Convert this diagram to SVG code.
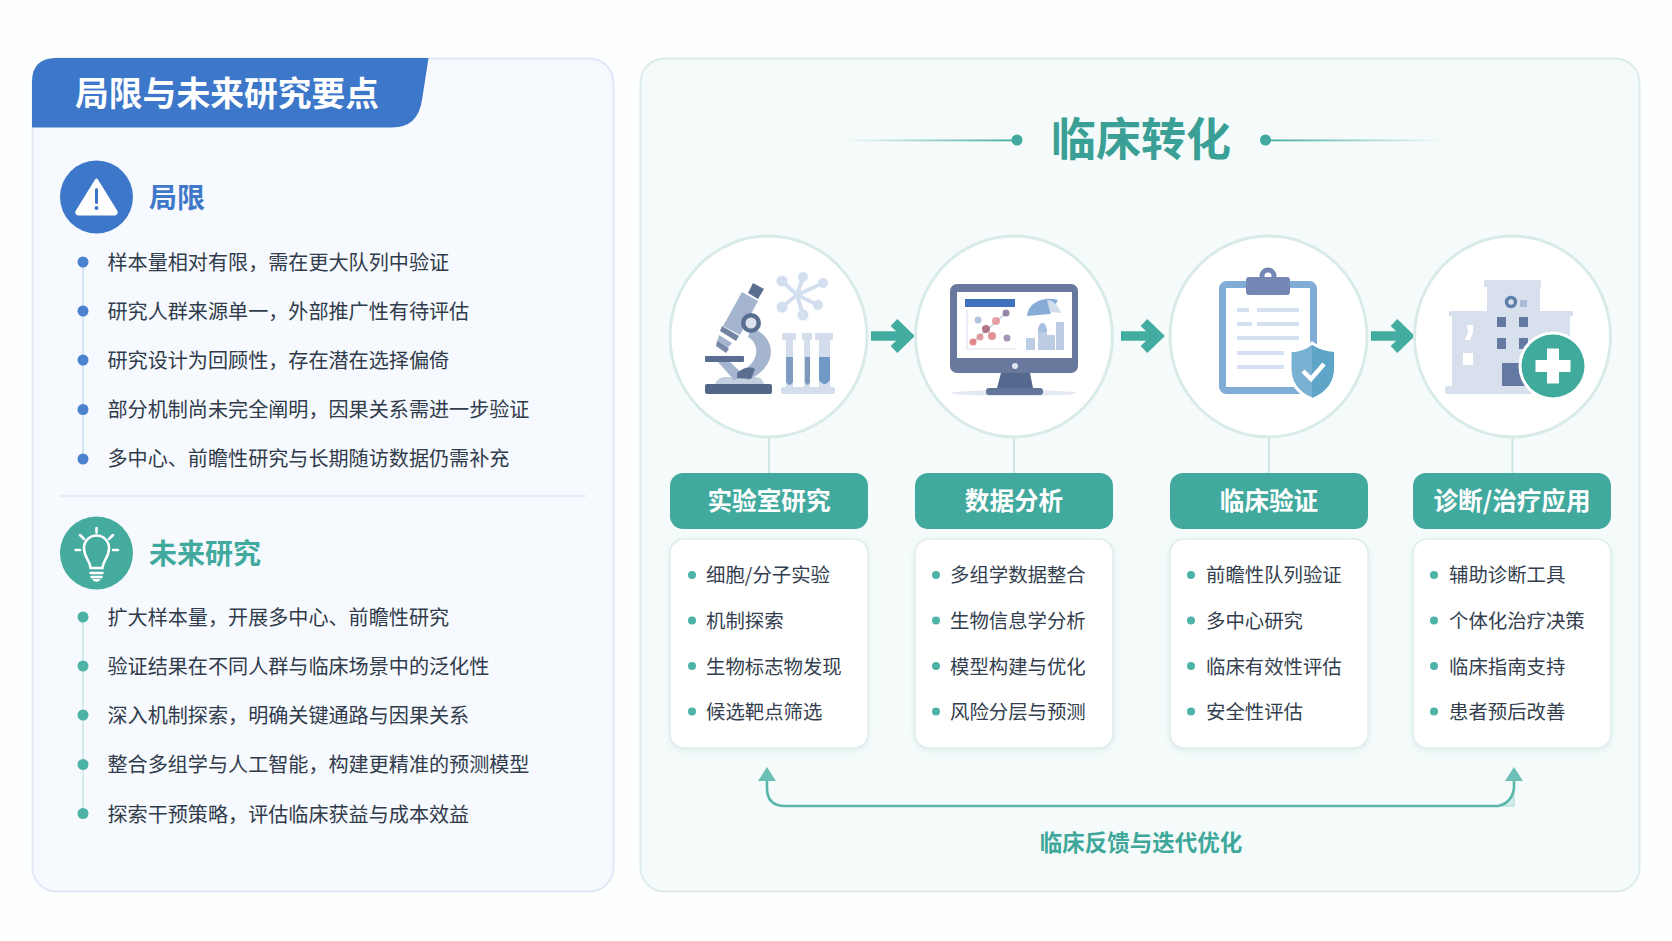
<svg xmlns="http://www.w3.org/2000/svg" width="1672" height="941" viewBox="0 0 1672 941">
<style>
text{font-family:"Noto Sans CJK SC","Noto Sans",sans-serif}
.li{font-size:20.1px;fill:#303b4b}
.ci{font-size:19.4px;fill:#333e4e}
.pill{fill:#41a99d}
.pt{font-size:24.6px;font-weight:700;fill:#fff;text-anchor:middle}
.card{fill:#fff;stroke:#deedeb;stroke-width:1.5;filter:url(#sh)}
.circ{fill:#fff;stroke:#d8ebe8;stroke-width:3}
.bd{fill:#4a82d0}.gd{fill:#4db3a7}.cd{fill:#4db3a7}
.stem{stroke:#cfe6e2;stroke-width:2;fill:none}
.flow{fill:none;stroke:#41ac9f;stroke-width:9.5}
.fb{fill:none;stroke:#5ab6aa;stroke-width:2.6;marker-start:url(#fh);marker-end:url(#fh)}
.dk{fill:#5a6e91}.md{fill:#a6b5cf}.lt{fill:#d3deef}
</style>
<defs>
<filter id="sh" x="-10%" y="-10%" width="120%" height="120%"><feDropShadow dx="0" dy="2" stdDeviation="3" flood-color="#a9d3cd" flood-opacity=".3"/></filter>
<filter id="soft" x="-5%" y="-5%" width="110%" height="110%"><feGaussianBlur stdDeviation=".7"/></filter>
<linearGradient id="gl" gradientUnits="userSpaceOnUse" x1="842" y1="0" x2="1017" y2="0"><stop offset="0" stop-color="#41a99d" stop-opacity="0"/><stop offset="1" stop-color="#41a99d"/></linearGradient>
<linearGradient id="gr" gradientUnits="userSpaceOnUse" x1="1265" y1="0" x2="1445" y2="0"><stop offset="0" stop-color="#41a99d"/><stop offset="1" stop-color="#41a99d" stop-opacity="0"/></linearGradient>
<marker id="fh" markerUnits="userSpaceOnUse" viewBox="0 0 14 18" markerWidth="14" markerHeight="18" refX="1" refY="9" orient="auto-start-reverse"><path d="M0 0L14 9L0 18Z" fill="#6cc0b5"/></marker>
<path id="fa" d="M0 0H35M23 -13.500L37 0L23 13.500"/>
</defs>
<rect width="1672" height="941" fill="#fdfefe"/>

<g id="panel-left">
<rect x="32.500" y="58.500" width="581" height="833" rx="24" fill="#f6f9fd" stroke="#dfe9f6" stroke-width="2"/>
<path d="M32 127.500V82Q32 58 56 58H428.500L422 100Q418 127.500 392 127.500Z" fill="#3d77c9"/>
<text x="75" y="106" font-size="33.800" font-weight="700" fill="#fff">局限与未来研究要点</text>
<line x1="60" y1="496" x2="586" y2="496" stroke="#dce7f6" stroke-width="1.500"/>
</g>

<g id="limits">
<circle cx="96.500" cy="197" r="36.500" fill="#3d77c9"/>
<path d="M96.500 180L116 211.500Q117 214 114 214H79Q76 214 77 211.500Z" fill="#fff" stroke="#fff" stroke-width="3" stroke-linejoin="round"/>
<rect x="95" y="188" width="3" height="16" rx="1.500" fill="#3d77c9"/><circle cx="96.500" cy="208" r="2" fill="#3d77c9"/>
<text x="149" y="208" font-size="28" font-weight="700" fill="#3f78c8">局限</text>
<line x1="83" y1="262" x2="83" y2="459" stroke="#cadcf4" stroke-width="1.500"/>
<circle class="bd" cx="83" cy="262" r="5.500"/><circle class="bd" cx="83" cy="311" r="5.500"/><circle class="bd" cx="83" cy="360" r="5.500"/><circle class="bd" cx="83" cy="409.500" r="5.500"/><circle class="bd" cx="83" cy="459" r="5.500"/>
<text class="li" x="107.500" y="269.500">样本量相对有限，需在更大队列中验证</text>
<text class="li" x="107.500" y="318.500">研究人群来源单一，外部推广性有待评估</text>
<text class="li" x="107.500" y="367.500">研究设计为回顾性，存在潜在选择偏倚</text>
<text class="li" x="107.500" y="416.500">部分机制尚未完全阐明，因果关系需进一步验证</text>
<text class="li" x="107.500" y="466">多中心、前瞻性研究与长期随访数据仍需补充</text>
</g>

<g id="future">
<circle cx="96.500" cy="553" r="36.500" fill="#45ab9f"/>
<g fill="none" stroke="#fff" stroke-width="2.500" stroke-linecap="round">
<path d="M90.500 568C90 560 84 558 84 548A12.500 12.500 0 1 1 109 548C109 558 103 560 102.500 568Z"/>
<path d="M96.500 528V532.500M80 535L84 539M113 535L109 539M75.500 550H80M113 550H118"/>
</g>
<path d="M90.500 573H102.500M91.500 577H101.500" stroke="#fff" stroke-width="2.500" stroke-linecap="round"/>
<path d="M92 579H101Q99 582 96.500 582Q94 582 92 579Z" fill="#fff"/>
<text x="149" y="563.500" font-size="28" font-weight="700" fill="#41a99d">未来研究</text>
<line x1="83" y1="616" x2="83" y2="813" stroke="#c8e6e2" stroke-width="1.500"/>
<circle class="gd" cx="83" cy="617" r="5.500"/><circle class="gd" cx="83" cy="666" r="5.500"/><circle class="gd" cx="83" cy="715" r="5.500"/><circle class="gd" cx="83" cy="764.500" r="5.500"/><circle class="gd" cx="83" cy="813.500" r="5.500"/>
<text class="li" x="107.500" y="624.500">扩大样本量，开展多中心、前瞻性研究</text>
<text class="li" x="107.500" y="673.500">验证结果在不同人群与临床场景中的泛化性</text>
<text class="li" x="107.500" y="722.500">深入机制探索，明确关键通路与因果关系</text>
<text class="li" x="107.500" y="772">整合多组学与人工智能，构建更精准的预测模型</text>
<text class="li" x="107.500" y="821.500">探索干预策略，评估临床获益与成本效益</text>
</g>

<g id="panel-right">
<rect x="640.500" y="58.500" width="999" height="833" rx="24" fill="#f5fbfb" stroke="#dcecea" stroke-width="2"/>
<text x="1141" y="156" font-size="45" font-weight="700" fill="#3a9f94" text-anchor="middle">临床转化</text>
<rect x="842" y="139.500" width="175" height="1.800" fill="url(#gl)"/><rect x="1265" y="139.500" width="180" height="1.800" fill="url(#gr)"/>
<circle cx="1017" cy="140" r="5.500" fill="#41a99d"/><circle cx="1265.500" cy="140" r="5.500" fill="#41a99d"/>
</g>

<g id="connectors">
<path class="stem" d="M769 437V473M1014 437V473M1269 437V473M1512.500 437V473"/>
<use href="#fa" class="flow" x="871" y="336"/>
<use href="#fa" class="flow" x="1121" y="336"/>
<use href="#fa" class="flow" x="1371" y="336"/>
<path d="M1498 806H1514V790Q1511 802 1498 806Z" fill="#d4ede9" stroke="#a9dbd4" stroke-width="1"/>
<path class="fb" d="M767 780V788Q767 806 785 806H1498Q1512 803 1514 788V780"/>
<text x="1141" y="851" font-size="22.500" font-weight="700" fill="#3fa79a" text-anchor="middle">临床反馈与迭代优化</text>
</g>

<g id="node-lab">
<ellipse class="circ" cx="768.500" cy="336.500" rx="98.500" ry="100.500"/>
<g filter="url(#soft)">
<g fill="none" stroke="#d3deef" stroke-width="4"><path d="M782 281L797 295L803 277M797 295L823 283M797 295L818 305M797 295L803 315M797 295L782 307"/></g>
<circle class="lt" cx="782" cy="281" r="5.500"/><circle class="lt" cx="803" cy="277" r="5"/><circle class="lt" cx="823" cy="283" r="5"/><circle class="lt" cx="818" cy="305" r="5"/><circle class="lt" cx="803" cy="315" r="5.500"/><circle class="lt" cx="782" cy="307" r="5.500"/>
<path d="M715 384Q718 377 725 377H755Q762 377 764 384Z" fill="#c3cfe0"/>
<path class="md" d="M751 328C776 335 780 366 748 380L738 372C758 366 762 345 748 337Z"/>
<path class="md" d="M718 362L730 362L746 377L734 380Z"/>
<path class="dk" d="M737 373C742 368 750 366 755 369L751 379L737 378Z"/>
<path class="md" d="M742 292L758 301L740 335L723 326Z"/>
<path class="dk" d="M753 283L764 289L758 299L748 293Z"/>
<path class="dk" d="M722 326L739 336L736 341L720 331Z" fill-opacity=".85"/>
<path class="md" d="M719 335L732 343L727 349L717 342Z"/>
<path class="dk" d="M717 341L729 349L726 353L716 346Z" opacity=".8"/>
<circle cx="751" cy="323" r="10" fill="#5a6e91"/><circle cx="751" cy="323" r="5.500" fill="#dce3ee"/>
<rect class="dk" x="705" y="356" width="39" height="6" rx="1"/>
<rect x="705" y="384" width="67" height="10" rx="2" fill="#526789"/>
<g fill="#d3ddec"><rect x="786" y="338" width="7" height="50"/><rect x="804" y="338" width="6" height="50"/><rect x="819" y="338" width="11" height="50"/>
<rect x="782" y="333" width="14" height="7" rx="1"/><rect x="802" y="333" width="10" height="7" rx="1"/><rect x="815" y="333" width="18" height="7" rx="1"/><rect x="781" y="387" width="54" height="7" rx="2"/></g>
<path d="M786 357H793V382Q789.500 388 786 382Z" fill="#7f9cc2"/><path d="M805 357H810V382Q807.500 388 805 382Z" fill="#7f97ba"/><path d="M819 357H830V380Q824.500 388 819 380Z" fill="#7099c6"/>
</g>
<rect class="pill" x="670" y="473" width="198" height="56" rx="13"/>
<text class="pt" x="769" y="510">实验室研究</text>
<rect class="card" x="670" y="539" width="198" height="209" rx="14"/>
<circle class="cd" cx="692" cy="575" r="4"/><circle class="cd" cx="692" cy="620.500" r="4"/><circle class="cd" cx="692" cy="666" r="4"/><circle class="cd" cx="692" cy="711.500" r="4"/>
<text class="ci" x="706" y="582">细胞/分子实验</text><text class="ci" x="706" y="628">机制探索</text><text class="ci" x="706" y="673.500">生物标志物发现</text><text class="ci" x="706" y="719">候选靶点筛选</text>
</g>

<g id="node-data">
<ellipse class="circ" cx="1014" cy="336.500" rx="98.500" ry="100.500"/>
<g filter="url(#soft)">
<ellipse cx="1014" cy="393" rx="62" ry="3" fill="#e3e8f2"/>
<rect x="950" y="284" width="128" height="89" rx="7" fill="#69789d"/>
<rect x="957" y="292" width="115" height="66" fill="#fff"/>
<circle cx="1015" cy="366" r="3" fill="#dfe5f0"/>
<path d="M1001 373H1030L1033 388H997Z" fill="#55688e"/>
<rect x="986" y="388" width="57" height="7" rx="3" fill="#63769a"/>
<rect x="965" y="299" width="50" height="8" fill="#3f71bd"/>
<path d="M967 310V349H1016" fill="none" stroke="#dbe2ee" stroke-width="1.200"/>
<path d="M973 342L1006 313" stroke="#c3d2e6" stroke-width="1.500"/>
<g fill-opacity=".8"><circle cx="978" cy="320" r="3.500" fill="#9db5d8"/><circle cx="973" cy="342" r="3.500" fill="#d96b72"/><circle cx="980" cy="337" r="3.500" fill="#d9848a"/><circle cx="986" cy="329" r="4" fill="#a0566c"/><circle cx="996" cy="321" r="4" fill="#e08b90"/><circle cx="1006" cy="313" r="3.500" fill="#7d6890"/><circle cx="992" cy="336" r="4" fill="#d9777d"/><circle cx="1007" cy="338" r="3.500" fill="#8c7aa0"/></g>
<path d="M1027 316C1028 302 1045 296 1058 300L1050 314Z" fill="#87acd8"/><path d="M1047 300C1053 300 1059 306 1061 313L1050 312Z" fill="#d2dded"/>
<g fill="#bccce2"><rect x="1026" y="338" width="9" height="12"/><rect x="1038" y="332" width="9" height="18"/><rect x="1047" y="335" width="8" height="15"/><rect x="1056" y="322" width="8" height="28"/></g>
<path d="M1038 332C1038 320 1047 320 1047 332Z" fill="#a6bedf"/>
</g>
<rect class="pill" x="915" y="473" width="198" height="56" rx="13"/>
<text class="pt" x="1014" y="510">数据分析</text>
<rect class="card" x="915" y="539" width="198" height="209" rx="14"/>
<circle class="cd" cx="936" cy="575" r="4"/><circle class="cd" cx="936" cy="620.500" r="4"/><circle class="cd" cx="936" cy="666" r="4"/><circle class="cd" cx="936" cy="711.500" r="4"/>
<text class="ci" x="950" y="582">多组学数据整合</text><text class="ci" x="950" y="628">生物信息学分析</text><text class="ci" x="950" y="673.500">模型构建与优化</text><text class="ci" x="950" y="719">风险分层与预测</text>
</g>

<g id="node-clinical">
<ellipse class="circ" cx="1268.500" cy="336.500" rx="98.500" ry="100.500"/>
<g filter="url(#soft)">
<rect x="1222.500" y="284.500" width="91" height="106" rx="4" fill="#fff" stroke="#7fadd6" stroke-width="7"/>
<circle cx="1268" cy="276" r="6" fill="#fff" stroke="#7488b5" stroke-width="5"/>
<rect x="1246" y="277" width="44" height="18" rx="3" fill="#7488b5"/>
<g stroke="#d5e0f0" stroke-width="4"><path d="M1237 310H1249M1257 310H1299M1237 324H1252M1257 324H1299M1237 338H1299M1237 353H1284M1237 367H1284"/></g>
<path d="M1312 343Q1322 351 1335 351V368Q1335 390 1312 399Q1290 390 1290 368V351Q1303 351 1312 343Z" fill="#79b1d2" stroke="#fff" stroke-width="3"/>
<path d="M1312 345Q1322 351 1334 352V368Q1334 389 1312 398Z" fill="#5ea5c8"/>
<path d="M1303 371L1311 379L1324 364" fill="none" stroke="#fff" stroke-width="4.500"/>
</g>
<rect class="pill" x="1170" y="473" width="198" height="56" rx="13"/>
<text class="pt" x="1269" y="510">临床验证</text>
<rect class="card" x="1170" y="539" width="198" height="209" rx="14"/>
<circle class="cd" cx="1191" cy="575" r="4"/><circle class="cd" cx="1191" cy="620.500" r="4"/><circle class="cd" cx="1191" cy="666" r="4"/><circle class="cd" cx="1191" cy="711.500" r="4"/>
<text class="ci" x="1206" y="582">前瞻性队列验证</text><text class="ci" x="1206" y="628">多中心研究</text><text class="ci" x="1206" y="673.500">临床有效性评估</text><text class="ci" x="1206" y="719">安全性评估</text>
</g>

<g id="node-application">
<ellipse class="circ" cx="1512.500" cy="336.500" rx="98" ry="100.500"/>
<g filter="url(#soft)">
<g fill="#d8dfed"><rect x="1487" y="285" width="53" height="105"/><rect x="1484" y="280" width="57" height="7"/><rect x="1452" y="316" width="35" height="72"/><rect x="1540" y="316" width="30" height="60"/><rect x="1449" y="311" width="38" height="5"/><rect x="1540" y="311" width="33" height="5"/><rect x="1445" y="386" width="110" height="8" rx="2"/><rect x="1547" y="324" width="2.500" height="8"/><rect x="1556" y="324" width="2.500" height="8"/></g>
<circle cx="1511" cy="302" r="4.500" fill="#d8dfed" stroke="#5d7fac" stroke-width="3.500"/><rect x="1520" y="300" width="7" height="7" fill="#a9bbd6"/>
<g fill="#6479a2"><rect x="1497" y="317" width="9" height="10"/><rect x="1519" y="317" width="9" height="10"/><rect x="1497" y="338" width="9" height="11"/><rect x="1519" y="338" width="9" height="11"/><rect x="1502" y="363" width="23" height="23"/></g>
<path d="M1467 325H1473V333L1470 340H1465L1468 332Z" fill="#fff"/><rect x="1463" y="353" width="10" height="12" fill="#fff"/>
<circle cx="1553" cy="366" r="34.500" fill="#fff"/><circle cx="1553" cy="366" r="31.500" fill="#3faa9d"/>
<path d="M1547 348.500H1559V360H1570.500V372H1559V383.500H1547V372H1535.500V360H1547Z" fill="#fff"/>
</g>
<rect class="pill" x="1413" y="473" width="198" height="56" rx="13"/>
<text class="pt" x="1512" y="510">诊断/治疗应用</text>
<rect class="card" x="1413" y="539" width="198" height="209" rx="14"/>
<circle class="cd" cx="1434" cy="575" r="4"/><circle class="cd" cx="1434" cy="620.500" r="4"/><circle class="cd" cx="1434" cy="666" r="4"/><circle class="cd" cx="1434" cy="711.500" r="4"/>
<text class="ci" x="1449" y="582">辅助诊断工具</text><text class="ci" x="1449" y="628">个体化治疗决策</text><text class="ci" x="1449" y="673.500">临床指南支持</text><text class="ci" x="1449" y="719">患者预后改善</text>
</g>
</svg>
